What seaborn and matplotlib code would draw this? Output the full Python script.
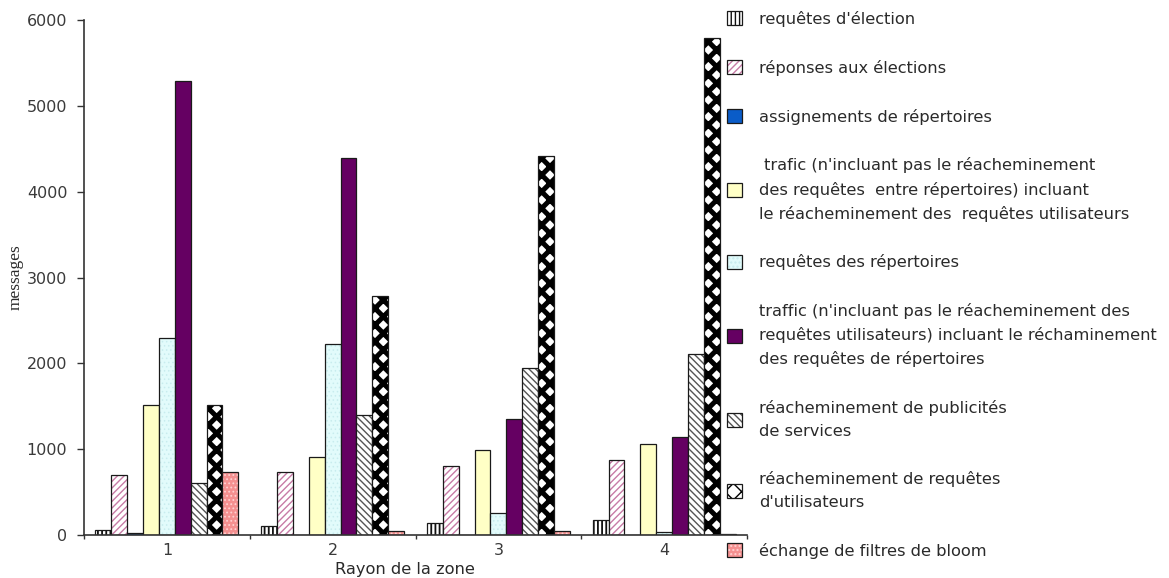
import numpy as np
import pandas as pd
import matplotlib
matplotlib.use("Agg")
import matplotlib.pyplot as plt
import seaborn as sns

# ---------------- data ----------------
rayons = ["1", "2", "3", "4"]
series = [
    "requêtes d'élection",
    "réponses aux élections",
    "assignements de répertoires",
    " trafic (n'incluant pas le réacheminement\ndes requêtes  entre répertoires) incluant\nle réacheminement des  requêtes utilisateurs",
    "requêtes des répertoires",
    "traffic (n'incluant pas le réacheminement des\nrequêtes utilisateurs) incluant le réchaminement\ndes requêtes de répertoires",
    "réacheminement de publicités\nde services",
    "réacheminement de requêtes\nd'utilisateurs",
    "échange de filtres de bloom",
]
requetes_election = [64, 107, 141, 171]
reponses_elections = [699, 729, 806, 879]
assignements = [22, 0, 0, 0]
trafic_utilisateurs = [1513, 913, 986, 1063]
requetes_repertoires = [2293, 2229, 257, 40]
trafic_repertoires = [5294, 4393, 1350, 1136]
publicites = [609, 1402, 1942, 2109]
requetes_utilisateurs = [1513, 2786, 4415, 5790]
filtres_bloom = [729, 50, 45, 15]
yticks = [0, 1000, 2000, 3000, 4000, 5000, 6000]

values = [requetes_election, reponses_elections, assignements, trafic_utilisateurs,
          requetes_repertoires, trafic_repertoires, publicites,
          requetes_utilisateurs, filtres_bloom]

rows = []
for name, vals in zip(series, values):
    for r, v in zip(rayons, vals):
        rows.append({"rayon": r, "messages": v, "serie": name})
df = pd.DataFrame(rows)

# ---------------- styles ----------------
faces = ["#FFFFFF", "#FFFFFF", "#0A5CC8", "#FFFFC6", "#E2FBFB",
         "#650062", "#FFFFFF", "#FFFFFF", "#F49090"]
hatches = ["||||", "/////", None, None, "....", None, "\\\\\\\\\\", "xx", "...."]
hatch_colors = ["#111111", "#C77BA6", None, None, "#C8ECEE", None,
                "#555555", "#000000", "#FFD0D0"]
hatch_widths = [1.3, 1.0, 1.0, 1.0, 0.6, 1.0, 1.0, 3.6, 0.8]

sns.set_theme(style="ticks")
plt.rcParams["font.family"] = ["DejaVu Sans"]
plt.rcParams["hatch.linewidth"] = 1.0

fig = plt.figure(figsize=(11.69, 5.78), dpi=100)
ax = fig.add_axes([84 / 1169, 43 / 578, 663 / 1169, 515 / 578])

sns.barplot(data=df, x="rayon", y="messages", hue="serie", order=rayons,
            hue_order=series, palette=dict(zip(series, faces)), saturation=1,
            edgecolor="#1a1a1a", linewidth=0.9, width=0.862, legend=False, ax=ax)

for cont, h, hc, hw in zip(ax.containers, hatches, hatch_colors, hatch_widths):
    for p in cont:
        if h:
            p.set_hatch(h)
            if hasattr(p, "set_hatchcolor"):
                p.set_hatchcolor(hc)
            else:
                p._hatch_color = matplotlib.colors.to_rgba(hc)
            if hasattr(p, "set_hatch_linewidth"):
                p.set_hatch_linewidth(hw)
            else:
                p._hatch_linewidth = hw

# axes styling
sns.despine(ax=ax)
for s in ("left", "bottom"):
    ax.spines[s].set_color("#333333")
    ax.spines[s].set_linewidth(1.2)

ax.set_ylim(0, 6000)
ax.set_yticks(yticks)
ax.set_yticklabels([str(t) for t in yticks])
ax.tick_params(axis="y", length=5, width=1.0, color="#333333", pad=7,
               labelsize=11.5, labelcolor="#3a3a3a")

n = len(rayons)
ax.set_xlim(-0.5, n - 0.5)
ax.set_xticks(np.arange(n + 1) - 0.5)
ax.set_xticklabels([])
ax.set_xticks(np.arange(n), labels=rayons, minor=True)
ax.tick_params(axis="x", which="major", length=3, width=1.0, color="#333333")
ax.tick_params(axis="x", which="minor", length=0, pad=6, labelsize=11.5,
               labelcolor="#3a3a3a")

ax.set_xlabel("Rayon de la zone", fontsize=11.7, color="#2a2a2a")
ax.xaxis.set_label_coords((405 - 84) / 663, (535 - 562) / 515)
ax.set_ylabel("messages", fontsize=12.5, color="#2a2a2a",
              fontfamily=["Liberation Serif", "DejaVu Serif"])
ax.yaxis.set_label_coords((24 - 84) / 663, (535 - 277) / 515)

handles = [c[0] for c in ax.containers]
leg = fig.legend(handles, series, loc="upper left",
                 bbox_to_anchor=(727 / 1169, 1 - 11 / 578),
                 frameon=False, borderpad=0, borderaxespad=0,
                 labelspacing=2.02, handlelength=0.95, handleheight=0.95,
                 handletextpad=1.0, prop={"size": 11.7})
for t in leg.get_texts():
    t.set_linespacing(1.62)
    t.set_color("#2a2a2a")

fig.savefig("out.png", dpi=100)
